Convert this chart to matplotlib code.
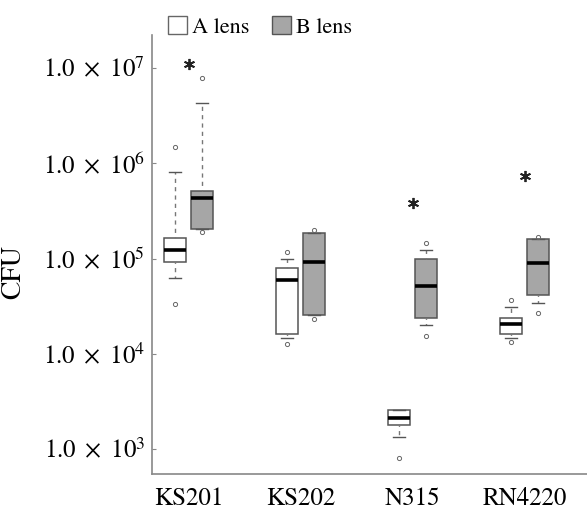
import numpy as np
import matplotlib
matplotlib.use("Agg")
import matplotlib.pyplot as plt
from matplotlib.patches import Patch

strains = ["KS201", "KS202", "N315", "RN4220"]

# A lens box stats
a_q1 = [9.3e4, 1.6e4, 1.78e3, 1.6e4]
a_med = [1.24e5, 5.9e4, 2.1e3, 2.04e4]
a_q3 = [1.66e5, 7.9e4, 2.6e3, 2.4e4]
a_lo = [6.3e4, 1.45e4, 1.34e3, 1.45e4]
a_hi = [8.1e5, 9.8e4, 2.6e3, 3.07e4]
a_fliers = [[3.3e4, 1.49e6], [1.26e4, 1.18e5], [8.0e2], [1.32e4, 3.7e4]]

# B lens box stats
b_q1 = [2.06e5, 2.53e4, 2.4e4, 4.1e4]
b_med = [4.35e5, 9.1e4, 5.1e4, 8.9e4]
b_q3 = [5.15e5, 1.83e5, 1.0e5, 1.62e5]
b_lo = [2.06e5, 2.53e4, 1.99e4, 3.4e4]
b_hi = [4.3e6, 1.83e5, 1.24e5, 1.62e5]
b_fliers = [[1.9e5, 7.9e6], [2.3e4, 2.0e5], [1.52e4, 1.47e5], [2.65e4, 1.7e5]]

# significance marks
star_y = [1.1e7, None, 3.8e5, 7.4e5]

plt.rcParams["font.family"] = "STIXGeneral"
plt.rcParams["mathtext.fontset"] = "stix"

fig = plt.figure(figsize=(5.87, 5.09), dpi=100)
ax = fig.add_axes([152 / 587, 35 / 509, 435 / 587, 439 / 509])

def make_stats(q1, med, q3, lo, hi, fl):
    out = []
    for i in range(len(q1)):
        out.append(dict(q1=q1[i], med=med[i], q3=q3[i], whislo=lo[i],
                        whishi=hi[i], fliers=fl[i]))
    return out

pos = np.arange(1, len(strains) + 1)
common = dict(widths=0.2, capwidths=0.11, patch_artist=True, showfliers=True,
              medianprops=dict(color="black", linewidth=2.6),
              whiskerprops=dict(color="#777777", linewidth=1.0,
                                linestyle=(2, (3, 3))),
              capprops=dict(color="#555555", linewidth=1.0),
              manage_ticks=False)
fprops = dict(marker="o", markersize=3, markerfacecolor="none",
              markeredgecolor="#666666", markeredgewidth=0.7)

ax.bxp(make_stats(a_q1, a_med, a_q3, a_lo, a_hi, a_fliers), positions=pos - 0.12,
       boxprops=dict(facecolor="white", edgecolor="#555555", linewidth=1.1),
       flierprops=fprops, **common)
ax.bxp(make_stats(b_q1, b_med, b_q3, b_lo, b_hi, b_fliers), positions=pos + 0.12,
       boxprops=dict(facecolor="#a6a6a6", edgecolor="#555555", linewidth=1.1),
       flierprops=fprops, **common)

for p, s in zip(pos, star_y):
    if s is not None:
        ax.plot(p, s, marker=(6, 2, 0), markersize=8, color="#222222",
                markeredgewidth=1.3)

ax.set_yscale("log")
ax.set_ylim(10 ** 2.738, 10 ** 7.346)
ax.set_xlim(0.674, 4.558)
ax.set_yticks([1e3, 1e4, 1e5, 1e6, 1e7])
ax.set_yticklabels([r"$1.0\ \times\ 10^{%d}$" % k for k in range(3, 8)], fontsize=18)
ax.minorticks_off()
ax.set_xticks(pos)
ax.set_xticklabels(strains, fontsize=18)
ax.tick_params(axis="y", direction="in", length=3, color="#888888", pad=5)
ax.tick_params(axis="x", length=0, pad=9)
ax.set_ylabel("CFU", fontsize=20)
ax.yaxis.set_label_coords(-0.29, 0.46)

for side in ["top", "right"]:
    ax.spines[side].set_visible(False)
for side in ["left", "bottom"]:
    ax.spines[side].set_color("#888888")
    ax.spines[side].set_linewidth(1.2)

handles = [Patch(facecolor="white", edgecolor="#666666", label="A lens"),
           Patch(facecolor="#a6a6a6", edgecolor="#555555", label="B lens")]
fig.legend(handles=handles, loc="center", bbox_to_anchor=(0.443, 0.947), ncol=2,
           frameon=False, fontsize=16, handlelength=0.85, handleheight=0.85,
           handletextpad=0.25, columnspacing=1.0, borderaxespad=0)

fig.savefig("out.png", dpi=100)
